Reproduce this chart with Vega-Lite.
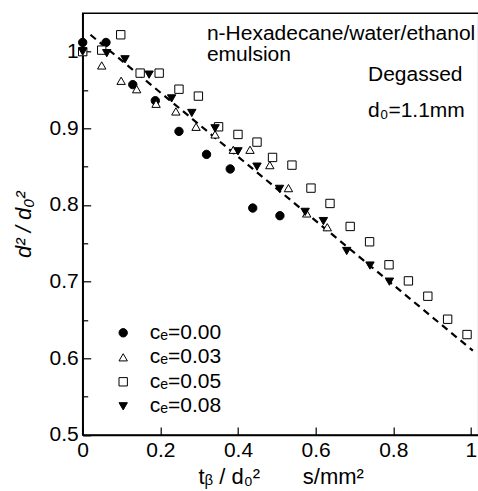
{
  "$schema": "https://vega.github.io/schema/vega-lite/v6.json",
  "autosize": "none",
  "width": 396,
  "height": 421.7,
  "padding": {"left": 82.7, "top": 13.3, "right": 0, "bottom": 56},
  "background": "white",
  "config": {
    "view": {"stroke": "black", "strokeWidth": 1.5},
    "font": "Liberation Sans",
    "axis": {"domainColor": "black", "tickColor": "black", "labelColor": "black", "titleColor": "black", "labelFont": "Liberation Sans", "titleFont": "Liberation Sans", "labelFontSize": 21, "titleFontSize": 22, "titleFontWeight": "normal", "grid": false, "labelFlush": false, "labelOverlap": false, "domainWidth": 1.5, "tickWidth": 1.2}
  },
  "datasets": {
    "pts": [
      {"ce": "0.00", "x": 0.0, "y": 1.012},
      {"ce": "0.00", "x": 0.06, "y": 1.012},
      {"ce": "0.00", "x": 0.129, "y": 0.957},
      {"ce": "0.00", "x": 0.187, "y": 0.936},
      {"ce": "0.00", "x": 0.248, "y": 0.896},
      {"ce": "0.00", "x": 0.319, "y": 0.866},
      {"ce": "0.00", "x": 0.38, "y": 0.847},
      {"ce": "0.00", "x": 0.438, "y": 0.796},
      {"ce": "0.00", "x": 0.508, "y": 0.786},
      {"ce": "0.03", "x": 0.0, "y": 1.0},
      {"ce": "0.03", "x": 0.049, "y": 0.982},
      {"ce": "0.03", "x": 0.099, "y": 0.962},
      {"ce": "0.03", "x": 0.139, "y": 0.951},
      {"ce": "0.03", "x": 0.189, "y": 0.932},
      {"ce": "0.03", "x": 0.24, "y": 0.922},
      {"ce": "0.03", "x": 0.292, "y": 0.902},
      {"ce": "0.03", "x": 0.341, "y": 0.892},
      {"ce": "0.03", "x": 0.388, "y": 0.872},
      {"ce": "0.03", "x": 0.431, "y": 0.872},
      {"ce": "0.03", "x": 0.482, "y": 0.852},
      {"ce": "0.03", "x": 0.53, "y": 0.822},
      {"ce": "0.03", "x": 0.577, "y": 0.789},
      {"ce": "0.03", "x": 0.63, "y": 0.771},
      {"ce": "0.05", "x": 0.0, "y": 1.0},
      {"ce": "0.05", "x": 0.049, "y": 1.002},
      {"ce": "0.05", "x": 0.098, "y": 1.022},
      {"ce": "0.05", "x": 0.148, "y": 0.972},
      {"ce": "0.05", "x": 0.197, "y": 0.972},
      {"ce": "0.05", "x": 0.248, "y": 0.951},
      {"ce": "0.05", "x": 0.298, "y": 0.942},
      {"ce": "0.05", "x": 0.35, "y": 0.902},
      {"ce": "0.05", "x": 0.4, "y": 0.892},
      {"ce": "0.05", "x": 0.449, "y": 0.882},
      {"ce": "0.05", "x": 0.489, "y": 0.862},
      {"ce": "0.05", "x": 0.539, "y": 0.852},
      {"ce": "0.05", "x": 0.588, "y": 0.822},
      {"ce": "0.05", "x": 0.637, "y": 0.802},
      {"ce": "0.05", "x": 0.689, "y": 0.772},
      {"ce": "0.05", "x": 0.739, "y": 0.752},
      {"ce": "0.05", "x": 0.789, "y": 0.722},
      {"ce": "0.05", "x": 0.839, "y": 0.701},
      {"ce": "0.05", "x": 0.889, "y": 0.681},
      {"ce": "0.05", "x": 0.94, "y": 0.651},
      {"ce": "0.05", "x": 0.99, "y": 0.631},
      {"ce": "0.08", "x": 0.0, "y": 1.0},
      {"ce": "0.08", "x": 0.062, "y": 0.998},
      {"ce": "0.08", "x": 0.109, "y": 0.99},
      {"ce": "0.08", "x": 0.171, "y": 0.97},
      {"ce": "0.08", "x": 0.229, "y": 0.939},
      {"ce": "0.08", "x": 0.281, "y": 0.92},
      {"ce": "0.08", "x": 0.341, "y": 0.9},
      {"ce": "0.08", "x": 0.4, "y": 0.87},
      {"ce": "0.08", "x": 0.449, "y": 0.85},
      {"ce": "0.08", "x": 0.507, "y": 0.821},
      {"ce": "0.08", "x": 0.573, "y": 0.791},
      {"ce": "0.08", "x": 0.62, "y": 0.779},
      {"ce": "0.08", "x": 0.68, "y": 0.74},
      {"ce": "0.08", "x": 0.74, "y": 0.721},
      {"ce": "0.08", "x": 0.79, "y": 0.7}
    ],
    "fit": [
      {"x": 0.02, "y": 1.022},
      {"x": 1.005, "y": 0.61}
    ]
  },
  "layer": [
    {
      "data": {"name": "fit"},
      "mark": {"type": "line", "color": "black", "strokeWidth": 2.2, "strokeDash": [7, 5]},
      "encoding": {
        "x": {"field": "x", "type": "quantitative", "scale": {"domain": [0, 1.02], "nice": false, "zero": false},
          "axis": {"values": [0, 0.1, 0.2, 0.3, 0.4, 0.5, 0.6, 0.7, 0.8, 0.9, 1.0],
            "labelExpr": "abs(datum.value*5 - round(datum.value*5)) < 0.001 ? (datum.value == 0 ? '0' : datum.value == 1 ? '1' : format(datum.value, '.1f')) : ''",
            "tickSize": {"condition": {"test": "abs(datum.value*5 - round(datum.value*5)) < 0.001", "value": -8}, "value": -5},
            "labelPadding": 13,
            "title": "tᵦ / d₀²\u00a0\u00a0\u00a0\u00a0\u00a0\u00a0\u00a0s/mm²", "titlePadding": 6}},
        "y": {"field": "y", "type": "quantitative", "scale": {"domain": [0.5, 1.05], "nice": false, "zero": false},
          "axis": {"values": [0.5, 0.55, 0.6, 0.65, 0.7, 0.75, 0.8, 0.85, 0.9, 0.95, 1.0],
            "labelExpr": "abs(datum.value*10 - round(datum.value*10)) < 0.001 ? (datum.value == 1 ? '1' : format(datum.value, '.1f')) : ''",
            "tickSize": {"condition": {"test": "abs(datum.value*10 - round(datum.value*10)) < 0.001", "value": -8}, "value": -5},
            "labelPadding": 12.5,
            "title": "d² / d₀²", "titleFontStyle": "italic", "titlePadding": 14}}
      }
    },
    {
      "data": {"name": "pts"},
      "mark": {"type": "point", "filled": true, "stroke": "black", "strokeWidth": 1, "size": 70, "opacity": 1},
      "encoding": {
        "x": {"field": "x", "type": "quantitative"},
        "y": {"field": "y", "type": "quantitative"},
        "shape": {"field": "ce", "type": "nominal", "scale": {"domain": ["0.00", "0.03", "0.05", "0.08"], "range": ["circle", "triangle-up", "square", "triangle-down"]},
          "legend": {"title": null, "orient": "none", "legendX": 30, "legendY": 309, "labelExpr": "'cₑ=' + datum.label", "labelFontSize": 21, "labelFont": "Liberation Sans", "labelColor": "black", "labelOffset": 16, "rowPadding": 2.5, "symbolSize": 70, "symbolStrokeWidth": 1}},
        "fill": {"field": "ce", "type": "nominal", "scale": {"domain": ["0.00", "0.03", "0.05", "0.08"], "range": ["black", "white", "white", "black"]}, "legend": {"title": null, "orient": "none", "legendX": 30, "legendY": 309, "labelExpr": "'cₑ=' + datum.label", "labelFontSize": 21, "labelFont": "Liberation Sans", "labelColor": "black", "labelOffset": 16, "rowPadding": 2.5, "symbolSize": 70, "symbolStrokeWidth": 1}}
      }
    },
    {
      "data": {"values": [{}]},
      "mark": {"type": "text", "text": ["n-Hexadecane/water/ethanol", "emulsion"], "align": "left", "baseline": "top", "fontSize": 21, "lineHeight": 22, "font": "Liberation Sans", "color": "black"},
      "encoding": {"x": {"datum": 0.32}, "y": {"datum": 1.038}}
    },
    {
      "data": {"values": [{}]},
      "mark": {"type": "text", "text": "Degassed", "align": "left", "baseline": "middle", "fontSize": 21, "font": "Liberation Sans", "color": "black"},
      "encoding": {"x": {"datum": 0.735}, "y": {"datum": 0.97}}
    },
    {
      "data": {"values": [{}]},
      "mark": {"type": "text", "text": "d₀=1.1mm", "align": "left", "baseline": "middle", "fontSize": 21, "font": "Liberation Sans", "color": "black"},
      "encoding": {"x": {"datum": 0.735}, "y": {"datum": 0.922}}
    }
  ]
}
